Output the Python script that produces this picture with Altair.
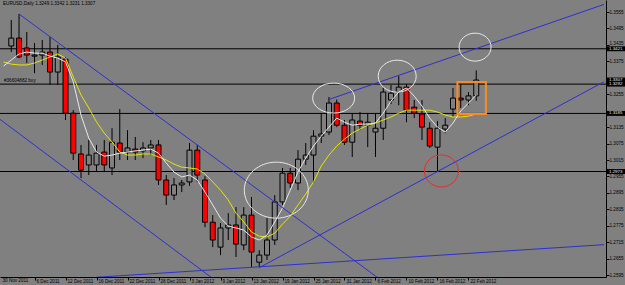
import altair as alt
import pandas as pd

# ---------------- data ----------------
bars = list(range(1, 62))  # bar index: 1 = 1 Dec 2011 ... 61 = 23 Feb 2012
opens = [1.3431, 1.3460, 1.3424, 1.3394, 1.3398, 1.3409, 1.3336, 1.3383, 1.3186, 1.3037,
         1.2997, 1.2997, 1.3044, 1.2986, 1.3077, 1.3044, 1.3055, 1.3048, 1.3059, 1.3070,
         1.2942, 1.2887, 1.2924, 1.2935, 1.3051, 1.2942, 1.2788, 1.2697, 1.2767, 1.2778,
         1.2705, 1.2814, 1.2642, 1.2668, 1.2723, 1.2862, 1.2967, 1.2931, 1.3018, 1.3033,
         1.3102, 1.3117, 1.3223, 1.3142, 1.3080, 1.3157, 1.3142, 1.3117, 1.3131, 1.3234,
         1.3263, 1.3281, 1.3208, 1.3183, 1.3131, 1.3062, 1.3128, 1.3201, 1.3241, 1.3234,
         1.3249]
highs = [1.3526, 1.3548, 1.3482, 1.3442, 1.3453, 1.3464, 1.3435, 1.3391, 1.3197, 1.3070,
         1.3088, 1.3070, 1.3088, 1.3131, 1.3201, 1.3124, 1.3099, 1.3080, 1.3088, 1.3088,
         1.2960, 1.2949, 1.2942, 1.3077, 1.3070, 1.2956, 1.2814, 1.2785, 1.2821, 1.2843,
         1.2843, 1.2880, 1.2686, 1.2803, 1.2887, 1.2986, 1.2986, 1.3051, 1.3077, 1.3124,
         1.3186, 1.3245, 1.3236, 1.3161, 1.3186, 1.3190, 1.3186, 1.3186, 1.3278, 1.3289,
         1.3321, 1.3292, 1.3234, 1.3234, 1.3153, 1.3157, 1.3168, 1.3278, 1.3292, 1.3263,
         1.3342]
lows = [1.3409, 1.3387, 1.3369, 1.3332, 1.3362, 1.3289, 1.3289, 1.3161, 1.3015, 1.2949,
        1.2960, 1.2971, 1.2971, 1.2960, 1.3015, 1.3015, 1.3015, 1.3022, 1.3033, 1.2924,
        1.2851, 1.2869, 1.2898, 1.2920, 1.2935, 1.2770, 1.2697, 1.2668, 1.2723, 1.2661,
        1.2686, 1.2624, 1.2624, 1.2650, 1.2705, 1.2851, 1.2913, 1.2905, 1.2997, 1.2931,
        1.3077, 1.3106, 1.3135, 1.3070, 1.3026, 1.3124, 1.3062, 1.3026, 1.3088, 1.3219,
        1.3215, 1.3153, 1.3168, 1.3088, 1.3059, 1.2971, 1.3113, 1.3172, 1.3205, 1.3215,
        1.3231]
closes = [1.3460, 1.3391, 1.3398, 1.3398, 1.3409, 1.3336, 1.3391, 1.3186, 1.3040, 1.2978,
          1.3033, 1.3040, 1.2997, 1.3080, 1.3044, 1.3059, 1.3044, 1.3059, 1.3070, 1.2942,
          1.2887, 1.2924, 1.2931, 1.3051, 1.2960, 1.2788, 1.2723, 1.2767, 1.2778, 1.2708,
          1.2814, 1.2679, 1.2668, 1.2723, 1.2862, 1.2967, 1.2931, 1.3018, 1.3033, 1.3102,
          1.3110, 1.3223, 1.3142, 1.3080, 1.3161, 1.3142, 1.3153, 1.3131, 1.3263, 1.3259,
          1.3281, 1.3197, 1.3186, 1.3135, 1.3066, 1.3131, 1.3142, 1.3241, 1.3234, 1.3249,
          1.3307]

ma_bars = list(range(0, 62))
ma_fast = [1.3358, 1.3380, 1.3402, 1.3409, 1.3405, 1.3405, 1.3394, 1.3387, 1.3373, 1.3300,
           1.3179, 1.3095, 1.3044, 1.3029, 1.3033, 1.3040, 1.3044, 1.3048, 1.3051, 1.3055,
           1.3040, 1.3004, 1.2971, 1.2953, 1.2960, 1.2942, 1.2898, 1.2851, 1.2803, 1.2774,
           1.2767, 1.2759, 1.2734, 1.2723, 1.2741, 1.2789, 1.2840, 1.2905, 1.2971, 1.3022,
           1.3066, 1.3102, 1.3135, 1.3168, 1.3153, 1.3142, 1.3146, 1.3146, 1.3150, 1.3186,
           1.3230, 1.3263, 1.3278, 1.3248, 1.3212, 1.3168, 1.3135, 1.3117, 1.3150, 1.3194,
           1.3223, 1.3252]
ma_slow = [1.3373, 1.3365, 1.3362, 1.3362, 1.3369, 1.3380, 1.3391, 1.3402, 1.3387, 1.3318,
           1.3252, 1.3205, 1.3154, 1.3113, 1.3081, 1.3044, 1.3033, 1.3033, 1.3037, 1.3037,
           1.3026, 1.3015, 1.3000, 1.2989, 1.2986, 1.2982, 1.2964, 1.2935, 1.2905, 1.2869,
           1.2821, 1.2789, 1.2752, 1.2737, 1.2734, 1.2748, 1.2781, 1.2810, 1.2851, 1.2891,
           1.2935, 1.2993, 1.3033, 1.3066, 1.3091, 1.3113, 1.3128, 1.3142, 1.3150, 1.3161,
           1.3172, 1.3186, 1.3197, 1.3197, 1.3197, 1.3197, 1.3190, 1.3179, 1.3172, 1.3172,
           1.3175, 1.3183]

tick_bars = [4, 8, 12, 16, 20, 24, 28, 32, 36, 40, 44, 48, 52, 56, 60]
date_labels = ["30 Nov 2011", "6 Dec 2011", "12 Dec 2011", "16 Dec 2011", "22 Dec 2011",
               "28 Dec 2011", "3 Jan 2012", "9 Jan 2012", "13 Jan 2012", "19 Jan 2012",
               "25 Jan 2012", "31 Jan 2012", "6 Feb 2012", "10 Feb 2012", "16 Feb 2012",
               "22 Feb 2012"]
# scale labels (1.3315 and 1.3195 sit hidden behind the price boxes)
price_ticks = [1.2595, 1.2655, 1.2715, 1.2775, 1.2835, 1.2895, 1.2955, 1.3015, 1.3075,
               1.3135, 1.3255, 1.3375, 1.3435, 1.3495, 1.3555]

hlines = [1.3421, 1.3292, 1.3185, 1.2973]
box_prices = [1.3421, 1.3307, 1.3292, 1.3185, 1.2973]
box_texts = ["1.3421", "1.3307", "1.3292", "1.3185", "1.2973"]

# trend lines: id, bar, price
tl_id = ["a", "a", "b", "b", "c", "c", "d", "d", "e", "e"]
tl_bar = [2, 50, -1, 30, 33, 77.5, 42, 77.5, 12, 77.5]
tl_price = [1.3548, 1.2550, 1.3175, 1.2519, 1.2622, 1.3301, 1.3236, 1.3583, 1.2587, 1.2706]

# ellipses: centre bar, centre price, radii (px), colour
el_bar = [35.2, 42.6, 50.8, 60.85, 56.5]
el_price = [1.2905, 1.3241, 1.3321, 1.3427, 1.2975]
el_rx = [32, 21, 19, 16, 17]
el_ry = [28, 15, 16, 14, 16]
el_col = ["#e8e8e8", "#e8e8e8", "#e8e8e8", "#e8e8e8", "#e03030"]

box_bar = [58.57, 62.25]
box_price = [1.3300, 1.3183]

header = "EURUSD,Daily  1.3249 1.3342 1.3231 1.3307"
order_text = "#36604882 buy"
order_price = 1.3292

# ---------------- chart ----------------
FONT = "Liberation Sans"
BG = "#808080"
BLUE = "#2f2fcf"

df = pd.DataFrame({"i": bars, "o": opens, "h": highs, "l": lows, "c": closes})
df["fill"] = ["#808080" if c >= o else "#ff0000" for o, c in zip(opens, closes)]
ma = pd.DataFrame({"i": ma_bars, "fast": ma_fast, "slow": ma_slow})

xs = alt.Scale(domain=[0.19, 77.1], nice=False, zero=False)
ys = alt.Scale(domain=[1.2588, 1.3599], nice=False, zero=False)

expr = "[" + ",".join("'%s'" % d for d in date_labels) + "][round(datum.value/4)]"
xaxis = alt.Axis(values=tick_bars, labelExpr=expr, labelAlign="left", labelBaseline="top",
                 labelOffset=1.5, labelPadding=-2, labelFontSize=4.6, labelFont=FONT,
                 labelColor="black", tickColor="black", tickSize=3, domainColor="black",
                 grid=False, title=None, labelOverlap=False, labelFlush=False)
yaxis = alt.Axis(orient="right", values=price_ticks, format=".4f", labelFontSize=4.6,
                 labelFont=FONT, labelColor="black", tickColor="black", tickSize=3,
                 labelPadding=0, domainColor="black", grid=False, title=None,
                 labelOverlap=False, labelFlush=False, labelBaseline="middle",
                 labelOffset={"condition": {"test": "abs(datum.value - 1.3435) < 0.0001",
                                            "value": -1.6}, "value": 0})


def X(f):
    return alt.X(f, type="quantitative", scale=xs, axis=xaxis)


def Y(f):
    return alt.Y(f, type="quantitative", scale=ys, axis=yaxis)


hl = alt.Chart(pd.DataFrame({"p": hlines})).mark_rule(color="black", strokeWidth=1).encode(
    y=Y("p"))

wicks = alt.Chart(df).mark_rule(color="black", strokeWidth=1, clip=True).encode(
    x=X("i"), y=Y("l"), y2="h")
bodies = alt.Chart(df).mark_bar(width=5, stroke="black", strokeWidth=1, clip=True).encode(
    x=X("i"), y=Y("o"), y2="c", fill=alt.Fill("fill:N", scale=None))

slow = alt.Chart(ma).mark_line(color="#e6e600", strokeWidth=1, clip=True).encode(
    x=X("i"), y=Y("slow"))
fast = alt.Chart(ma).mark_line(color="#e8e8e8", strokeWidth=1, clip=True).encode(
    x=X("i"), y=Y("fast"))

tl = alt.Chart(pd.DataFrame({"id": tl_id, "i": tl_bar, "p": tl_price})).mark_line(
    color=BLUE, strokeWidth=1, clip=True).encode(x=X("i"), y=Y("p"), detail="id:N")

el_df = pd.DataFrame({"i": el_bar, "p": el_price, "col": el_col})
el_df["sz"] = [4 * r * r for r in el_rx]
el_df["shp"] = ["M -1 0 A 1 %.3f 0 1 0 1 0 A 1 %.3f 0 1 0 -1 0 Z" % (ry / rx, ry / rx)
                for rx, ry in zip(el_rx, el_ry)]
ellipses = alt.Chart(el_df).mark_point(filled=False, strokeWidth=1, opacity=1).encode(
    x=X("i"), y=Y("p"), size=alt.Size("sz:Q", scale=None),
    shape=alt.Shape("shp:N", scale=None), color=alt.Color("col:N", scale=None))

orect = alt.Chart(pd.DataFrame({"i1": [box_bar[0]], "i2": [box_bar[1]],
                                "p1": [box_price[0]], "p2": [box_price[1]]})).mark_rect(
    fillOpacity=0, stroke="#ff8a1c", strokeWidth=2).encode(
    x=X("i1"), x2="i2", y=Y("p1"), y2="p2")

head = alt.Chart(pd.DataFrame({"t": [header]})).mark_text(
    align="left", baseline="middle", fontSize=4.6, font=FONT, color="black").encode(
    x=alt.value(3), y=alt.value(4), text="t:N")

order = alt.Chart(pd.DataFrame({"p": [order_price], "t": [order_text]})).mark_text(
    align="left", baseline="bottom", fontSize=4.6, font=FONT, color="black", dy=-1).encode(
    x=alt.value(4), y=Y("p"), text="t:N")

first_lab = alt.Chart(pd.DataFrame({"i": [0], "t": [date_labels[0]]})).mark_text(
    align="left", baseline="top", fontSize=4.6, font=FONT, color="black", dx=-1).encode(
    x=X("i"), y=alt.value(278), text="t:N")

bx = pd.DataFrame({"p": box_prices, "t": box_texts})
boxes = alt.Chart(bx).transform_calculate(
    top="datum.p + 0.0009", bot="datum.p - 0.0009").mark_rect(color="black").encode(
    x=alt.value(607), x2=alt.value(625), y=Y("top:Q"), y2="bot:Q")
box_txt = alt.Chart(bx).mark_text(align="left", baseline="middle", fontSize=4.4, font=FONT,
                                  color="#e8e8e8").encode(
    x=alt.value(609), y=Y("p"), text="t:N")

chart = alt.layer(hl, wicks, bodies, slow, fast, tl, ellipses, orect, head, order,
                  first_lab, boxes, box_txt).properties(
    width=606, height=277, background=BG,
    padding={"left": 0, "right": 19, "top": 0, "bottom": 8},
    autosize=alt.AutoSizeParams(type="none")
).configure_view(stroke="transparent", fill=BG)

chart.save("out.html", embed_options={"renderer": "svg", "actions": False})
